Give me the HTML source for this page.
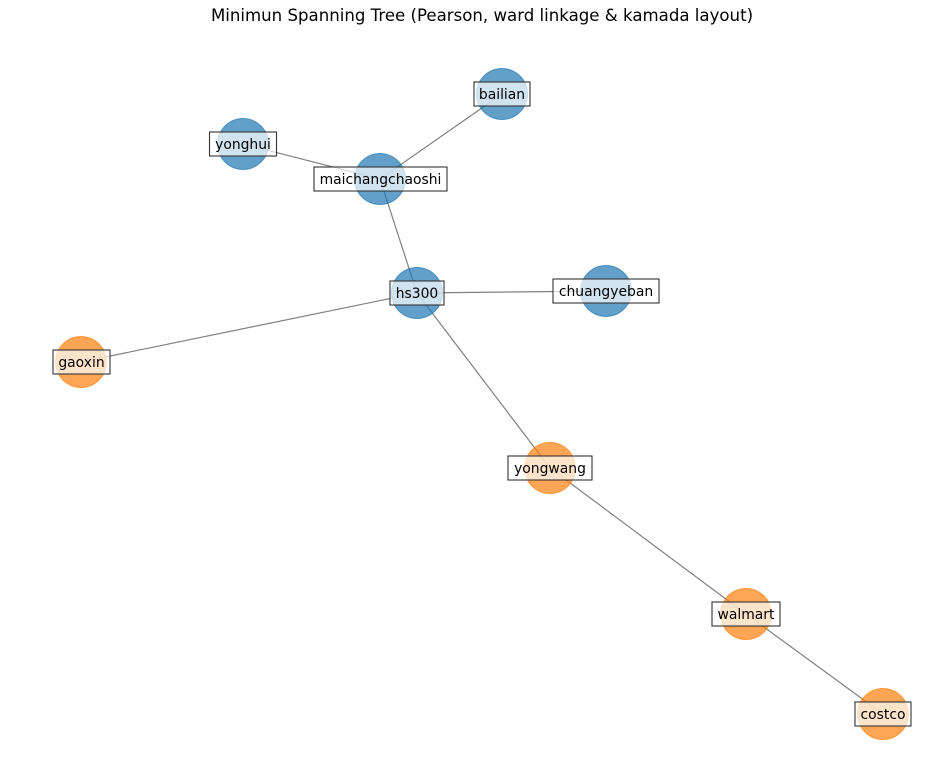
<!DOCTYPE html>
<html><head><meta charset="utf-8"><style>
html,body{margin:0;padding:0;background:#fff;}
svg{display:block;}
text{font-family:"DejaVu Sans","Liberation Sans",sans-serif;}
</style></head><body>
<svg width="937" height="762" viewBox="0 0 937 762" xmlns="http://www.w3.org/2000/svg">
<rect width="937" height="762" fill="#fff"/>
<text x="482" y="21" font-size="16.6" text-anchor="middle" fill="#000">Minimun Spanning Tree (Pearson, ward linkage &amp; kamada layout)</text>
<g stroke="#808080" stroke-width="1.2">
<line x1="243" y1="144" x2="380" y2="179"/>
<line x1="502" y1="94" x2="380" y2="179"/>
<line x1="380" y1="179" x2="417" y2="293"/>
<line x1="417" y1="293" x2="606" y2="291"/>
<line x1="417" y1="293" x2="81" y2="362"/>
<line x1="417" y1="293" x2="550" y2="468"/>
<line x1="550" y1="468" x2="746" y2="614"/>
<line x1="746" y1="614" x2="883" y2="714"/>
</g>
<g fill="#1f77b4" fill-opacity="0.7" stroke="#1f77b4" stroke-opacity="0.7">
<circle cx="502" cy="94" r="25.5"/>
<circle cx="243" cy="144" r="25.5"/>
<circle cx="380" cy="179" r="25.5"/>
<circle cx="417" cy="293" r="25.5"/>
<circle cx="606" cy="291" r="25.5"/>
</g>
<g fill="#ff7f0e" fill-opacity="0.7" stroke="#ff7f0e" stroke-opacity="0.7">
<circle cx="81" cy="362" r="25.5"/>
<circle cx="550" cy="468" r="25.5"/>
<circle cx="746" cy="614" r="25.5"/>
<circle cx="883" cy="714" r="25.5"/>
</g>
<g fill="#fff" fill-opacity="0.7" stroke="#333" stroke-width="1.1">
<rect x="474" y="82" width="56" height="24"/>
<rect x="209.5" y="132" width="67" height="24"/>
<rect x="314" y="167" width="133" height="24"/>
<rect x="390" y="281" width="54" height="24"/>
<rect x="553" y="279" width="106" height="24"/>
<rect x="53" y="350" width="57" height="24"/>
<rect x="508" y="456" width="84" height="24"/>
<rect x="712" y="602" width="68" height="24"/>
<rect x="855" y="702" width="56" height="24"/>
</g>
<g font-size="13.9" text-anchor="middle" fill="#000">
<text x="502" y="99">bailian</text>
<text x="243" y="149">yonghui</text>
<text x="380.5" y="184">maichangchaoshi</text>
<text x="417" y="298">hs300</text>
<text x="606" y="296">chuangyeban</text>
<text x="81.5" y="367">gaoxin</text>
<text x="550" y="473">yongwang</text>
<text x="746" y="619">walmart</text>
<text x="883" y="719">costco</text>
</g>
</svg>
</body></html>
